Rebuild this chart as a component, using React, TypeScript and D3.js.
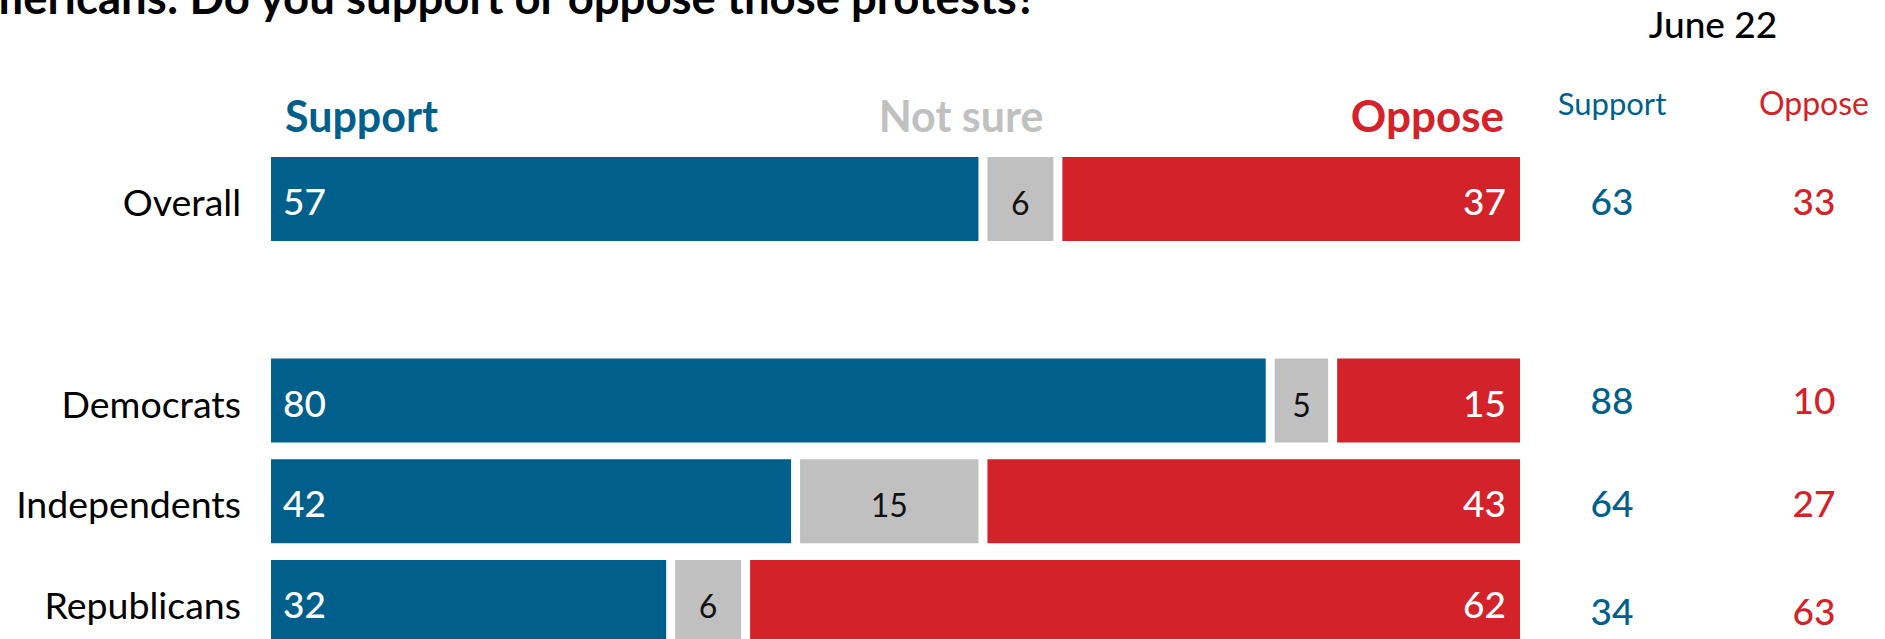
import React from "react";
import * as d3 from "d3";

// ---- data ----
const categories = ["Overall", "Democrats", "Independents", "Republicans"];
const rowSlots = ["Overall", "spacer", "Democrats", "Independents", "Republicans"];
const support = [57, 80, 42, 32];
const notSure = [6, 5, 15, 6];
const oppose = [37, 15, 43, 62];
const juneSupport = [63, 88, 64, 34];
const juneOppose = [33, 10, 27, 63];
const seriesKeys = ["support", "notSure", "oppose"];
const seriesNames = ["Support", "Not sure", "Oppose"];
const titleText = "Americans: Do you support or oppose those protests?";
const juneLabel = "June 22";

// ---- style ----
const W = 1885;
const H = 639;
const BLUE = "#005f8b";
const RED = "#d32229";
const GREY = "#c0c0c0";
const FONT = "Lato, 'Open Sans', sans-serif";
const colors: Record<string, string> = { support: BLUE, notSure: GREY, oppose: RED };
const rightValueOffset: Record<string, number> = { Overall: 0, Democrats: -3, Independents: 0, Republicans: 7 };

export default function App() {
  const table = categories.map((c, i) => ({
    category: c,
    support: support[i],
    notSure: notSure[i],
    oppose: oppose[i],
  }));
  const stacked = d3.stack<any>().keys(seriesKeys)(table);

  const x = d3.scaleLinear().domain([0, 100]).range([271, 1520]);
  const y = d3
    .scaleBand<string>()
    .domain(rowSlots)
    .range([157, 644])
    .paddingInner(0.1663)
    .paddingOuter(0);
  const bw = y.bandwidth();
  const gap = 9;
  const colSupport = 1612;
  const colOppose = 1814;
  const colJune = 1713;

  return (
    <svg
      width={W}
      height={H}
      style={{ position: "absolute", left: 0, top: 0, display: "block", background: "#fff" }}
      fontFamily={FONT}
    >
      {/* title (cropped at top, as in the source) */}
      <text x={1037} y={14} textAnchor="end" fontSize={45.5} fontWeight={700} fill="#000">
        {titleText}
      </text>

      {/* header labels over bars */}
      <text x={x(0) + 14} y={132} fontSize={43} fontWeight={700} fill={BLUE}>
        {seriesNames[0]}
      </text>
      <text x={961} y={132} textAnchor="middle" fontSize={43} fontWeight={700} fill={GREY}>
        {seriesNames[1]}
      </text>
      <text x={x(100) - 16} y={132} textAnchor="end" fontSize={44} fontWeight={700} fill={RED}>
        {seriesNames[2]}
      </text>

      {/* right columns header */}
      <text x={colJune} y={38} textAnchor="middle" fontSize={37} fontWeight={500} fill="#000">
        {juneLabel}
      </text>
      <text x={colSupport} y={115} textAnchor="middle" fontSize={31} fontWeight={400} fill={BLUE}>
        {seriesNames[0]}
      </text>
      <text x={colOppose} y={115} textAnchor="middle" fontSize={32} fontWeight={400} fill={RED}>
        {seriesNames[2]}
      </text>

      {/* category labels */}
      {categories.map((c) => (
        <text
          key={c}
          x={241}
          y={(y(c) as number) + bw / 2 + 17}
          textAnchor="end"
          fontSize={37.5}
          fontWeight={400}
          fill="#000"
        >
          {c}
        </text>
      ))}

      {/* bars */}
      {stacked.map((s, k) => (
        <g key={s.key}>
          {s.map((d: any) => {
            const cat = d.data.category;
            const x0 = x(d[0]) + (k > 0 ? gap / 2 : 0);
            const x1 = x(d[1]) - (k < seriesKeys.length - 1 ? gap / 2 : 0);
            const yy = y(cat) as number;
            const v = d[1] - d[0];
            let tx = 0;
            let anchor = "start";
            if (k === 0) {
              tx = x(0) + 12;
              anchor = "start";
            } else if (k === 1) {
              tx = (x0 + x1) / 2;
              anchor = "middle";
            } else {
              tx = x(100) - 14;
              anchor = "end";
            }
            return (
              <g key={cat}>
                <rect x={x0} y={yy} width={Math.max(0, x1 - x0)} height={bw} fill={colors[s.key]} />
                <text
                  x={tx}
                  y={yy + bw / 2 + 16}
                  textAnchor={anchor}
                  fontSize={k === 1 ? 32 : 37}
                  fontWeight={k === 1 ? 400 : 500}
                  fill={k === 1 ? "#111" : "#fff"}
                >
                  {v}
                </text>
              </g>
            );
          })}
        </g>
      ))}

      {/* June 22 values */}
      {categories.map((c, i) => {
        const cy = (y(c) as number) + bw / 2 + 16 + rightValueOffset[c];
        return (
          <g key={"r" + c}>
            <text x={colSupport} y={cy} textAnchor="middle" fontSize={37} fontWeight={500} fill={BLUE}>
              {juneSupport[i]}
            </text>
            <text x={colOppose} y={cy} textAnchor="middle" fontSize={37} fontWeight={500} fill={RED}>
              {juneOppose[i]}
            </text>
          </g>
        );
      })}
    </svg>
  );
}
